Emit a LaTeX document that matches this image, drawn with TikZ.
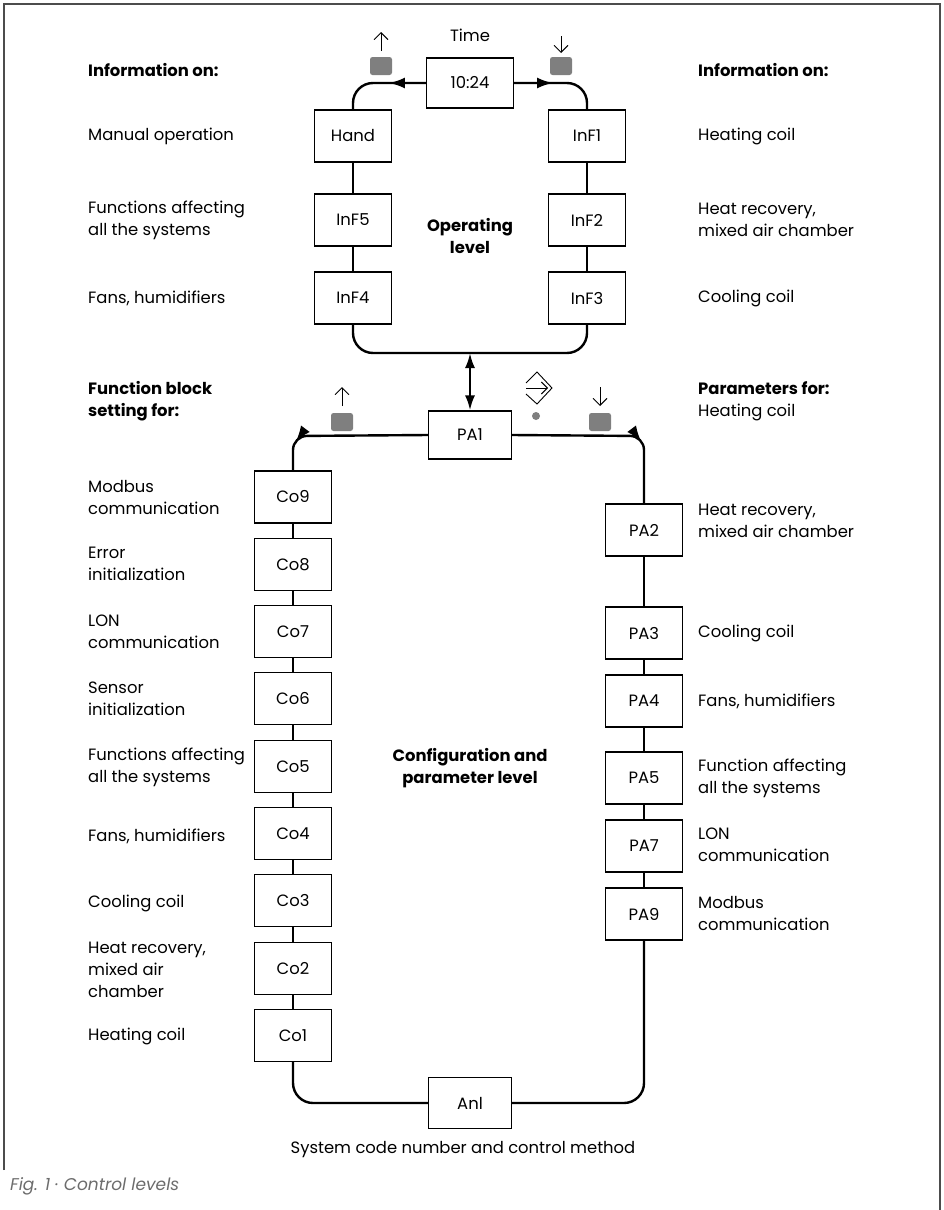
\documentclass[tikz,border=0pt]{standalone}
\usepackage{fontspec}
\setmainfont{Poppins}
\usetikzlibrary{arrows.meta,decorations.markings}
\newcommand\fs{\fontsize{16.4}{22}\selectfont}
\definecolor{keygray}{HTML}{7F7F7F}
\begin{document}
\begin{tikzpicture}[x=1pt,y=-1pt,
  box/.style={draw,line width=1.1pt,minimum width=77pt,minimum height=52pt,inner sep=0pt,fill=white,font=\fs},
  conn/.style={line width=2.4pt},
  link/.style={line width=1.8pt},
  lbl/.style={anchor=west,align=left,font=\fs,inner sep=0pt},
  ttl/.style={anchor=center,align=center,font=\fs\bfseries,inner sep=0pt},
  gsq/.style={fill=keygray,rounded corners=2.5pt,minimum width=22pt,minimum height=18pt,inner sep=0pt},
  keyarrow/.style={line width=0.9pt,-{Straight Barb[length=7pt,width=14pt]}},
  arrmark/.style={postaction={decorate},decoration={markings,mark=at position #1 with {\arrow{Latex[length=16pt,width=11pt]}}}}
]
\useasboundingbox (0,0) rectangle (943,1210);
% frame
\draw[line width=1.5pt,gray!60!black] (4,1170) -- (4,4) -- (940,4) -- (940,1210);

% ---------- operating level ----------
\node[anchor=center,font=\fs] (time) at (470,35) {Time};
\node[box,minimum width=87pt,minimum height=50pt] (T) at (470,83) {10:24};
\node[box] (Hand) at (353,136) {Hand};
\node[box] (InF5) at (353,220) {InF5};
\node[box] (InF4) at (353,298) {InF4};
\node[box] (InF1) at (587,136) {InF1};
\node[box] (InF2) at (587,220) {InF2};
\node[box] (InF3) at (587,298) {InF3};
\node[ttl] (opl) at (470,236) {Operating\\level};

\coordinate (tl) at (353,83);
\coordinate (tr) at (587,83);
\draw[conn,rounded corners=20pt,arrmark=37pt] (T.west) -- (tl) -- (Hand.north);
\draw[conn,rounded corners=20pt,arrmark=39pt] (T.east) -- (tr) -- (InF1.north);
\draw[link] (Hand) -- (InF5);
\draw[link] (InF5) -- (InF4);
\draw[link] (InF1) -- (InF2);
\draw[link] (InF2) -- (InF3);
\coordinate (bl) at (353,353);
\coordinate (br) at (587,353);
\coordinate (bm) at (470,353);
\draw[conn,rounded corners=20pt] (InF4.south) -- (bl) -- (br) -- (InF3.south);

% keys top
\node[gsq] (k1) at (381,66) {};
\node[gsq] (k2) at (561,66) {};
\draw[keyarrow] (381,51) -- (381,32);
\draw[keyarrow] (561,36) -- (561,53);

% labels top
\node[lbl] at (88,70) {\textbf{Information on:}};
\node[lbl] at (88,136) {Manual operation};
\node[lbl] at (88,220) {Functions affecting\\all the systems};
\node[lbl] at (88,298) {Fans, humidifiers};
\node[lbl] at (698,70) {\textbf{Information on:}};
\node[lbl] at (698,136) {Heating coil};
\node[lbl] at (698,220) {Heat recovery,\\mixed air chamber};
\node[lbl] at (698,298) {Cooling coil};

% ---------- configuration level ----------
\node[box,minimum width=83pt,minimum height=48pt] (PA1) at (470,435) {PA1};
\draw[conn,{Latex[length=15pt,width=10pt]}-{Latex[length=15pt,width=10pt]}] (bm) -- (PA1.north);

\node[gsq] (k3) at (342,422) {};
\node[gsq] (k4) at (600,422) {};
\draw[keyarrow] (342,406) -- (342,387);
\draw[keyarrow] (600,387) -- (600,406);
% enter key symbol
\draw[line width=0.9pt,line join=miter] (526,383) -- (537,372) -- (552,388) -- (537,404) -- (526,394);
\draw[line width=0.9pt,-{Straight Barb[length=6pt,width=12pt]}] (526,388) -- (548,388);
\fill[keygray] (536,416) circle (4pt);

\foreach \n [count=\i from 0] in {9,8,7,6,5,4,3,2,1} {
  \node[box] (Co\n) at (293,{497+67.3*\i}) {Co\n};
}
\node[box] (PA2) at (644,530) {PA2};
\node[box] (PA3) at (644,633) {PA3};
\node[box] (PA4) at (644,701) {PA4};
\node[box] (PA5) at (644,778) {PA5};
\node[box] (PA7) at (644,846) {PA7};
\node[box] (PA9) at (644,914) {PA9};
\node[box,minimum width=83pt,minimum height=51pt] (Anl) at (470,1103) {Anl};

\coordinate (cl) at (293,436);
\coordinate (cr) at (644,436);
\draw[conn,rounded corners=14pt,arrmark=134pt] (PA1.west) -- (cl) -- (Co9.north);
\draw[conn,rounded corners=14pt,arrmark=131pt] (PA1.east) -- (cr) -- (PA2.north);
\foreach \a/\b in {9/8,8/7,7/6,6/5,5/4,4/3,3/2,2/1} {\draw[link] (Co\a) -- (Co\b);}
\draw[link] (PA2) -- (PA3);
\draw[link] (PA3) -- (PA4);
\draw[link] (PA4) -- (PA5);
\draw[link] (PA5) -- (PA7);
\draw[link] (PA7) -- (PA9);
\coordinate (al) at (293,1103);
\coordinate (ar) at (644,1103);
\draw[conn,rounded corners=20pt] (Co1.south) -- (al) -- (Anl.west);
\draw[conn,rounded corners=20pt] (Anl.east) -- (ar) -- (PA9.south);

\node[ttl] (cpl) at (470,768) {Configuration and\\parameter level};

% labels left
\node[lbl] at (88,401) {\textbf{Function block}\\\textbf{setting for:}};
\node[lbl] at (88,497) {Modbus\\communication};
\node[lbl] at (88,564) {Error\\initialization};
\node[lbl] at (88,632) {LON\\communication};
\node[lbl] at (88,699) {Sensor\\initialization};
\node[lbl] at (88,767) {Functions affecting\\all the systems};
\node[lbl] at (88,836) {Fans, humidifiers};
\node[lbl] at (88,903) {Cooling coil};
\node[lbl] at (88,970) {Heat recovery,\\mixed air\\chamber};
\node[lbl] at (88,1036) {Heating coil};
% labels right
\node[lbl] at (698,401) {\textbf{Parameters for:}\\Heating coil};
\node[lbl] at (698,521) {Heat recovery,\\mixed air chamber};
\node[lbl] at (698,633) {Cooling coil};
\node[lbl] at (698,701) {Fans, humidifiers};
\node[lbl] at (698,778) {Function affecting\\all the systems};
\node[lbl] at (698,845) {LON\\communication};
\node[lbl] at (698,913) {Modbus\\communication};

\node[anchor=center,font=\fs] (sys) at (463,1150) {System code number and control method};
\node[anchor=west,font=\fontsize{17}{20}\selectfont\itshape,text=gray!85!black,inner sep=0pt] (cap) at (10,1186) {Fig. 1 · Control levels};
\end{tikzpicture}
\end{document}
